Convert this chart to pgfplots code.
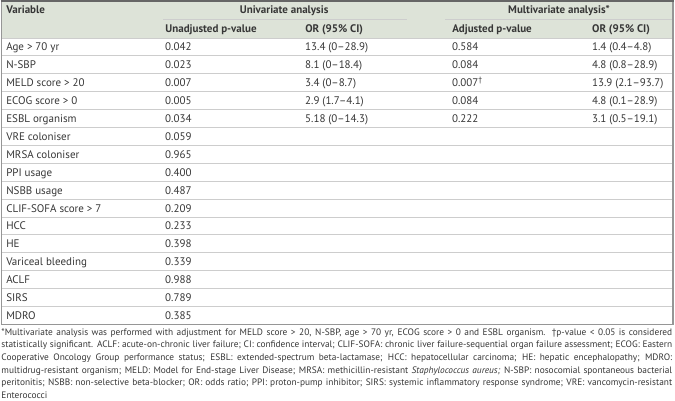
\documentclass[border=0pt]{standalone}
\usepackage{fontspec}
\setmainfont{PT Sans}
\usepackage{pgfplots}
\usepackage{pgfplotstable}
\pgfplotsset{compat=1.18}
\definecolor{hdr}{RGB}{221,227,216}
\definecolor{txt}{RGB}{55,55,55}
\definecolor{rulec}{RGB}{205,205,205}
\definecolor{framec}{RGB}{150,150,150}

\pgfplotstableread[col sep=semicolon,row sep=\\]{
y;var;up\\
51;Age > 70 yr;0.042\\
68.9;N-SBP;0.023\\
86.8;MELD score > 20;0.007\\
104.7;ECOG score > 0;0.005\\
122.6;ESBL organism;0.034\\
140.5;VRE coloniser;0.059\\
158.4;MRSA coloniser;0.965\\
176.3;PPI usage;0.400\\
194.2;NSBB usage;0.487\\
212.1;CLIF-SOFA score > 7;0.209\\
230.0;HCC;0.233\\
247.9;HE;0.398\\
265.8;Variceal bleeding;0.339\\
283.7;ACLF;0.988\\
301.6;SIRS;0.789\\
319.5;MDRO;0.385\\
}\univ

\pgfplotstableread[col sep=semicolon,row sep=\\]{
y;uor;ap;aor\\
51;13.4 (0–28.9);0.584;1.4 (0.4–4.8)\\
68.9;8.1 (0–18.4);0.084;4.8 (0.8–28.9)\\
86.8;3.4 (0–8.7);0.007\textsuperscript{†};13.9 (2.1–93.7)\\
104.7;2.9 (1.7–4.1);0.084;4.8 (0.1–28.9)\\
122.6;5.18 (0–14.3);0.222;3.1 (0.5–19.1)\\
}\multi

\begin{document}
\begin{tikzpicture}
\begin{axis}[
  width=675pt,height=401pt,scale only axis,
  xmin=0,xmax=675,ymin=0,ymax=401,y dir=reverse,
  hide axis,clip=false,
  cell/.style={draw=none,mark=none,only marks,nodes near coords,point meta=explicit symbolic,
    nodes near coords align={anchor=base west},
    every node near coord/.append style={anchor=base west,inner sep=0pt,outer sep=0pt,text=txt,font=\fontsize{11}{13}\selectfont}},
]
% background and header
\fill[white] (axis cs:0,0) rectangle (axis cs:675,401);
\fill[hdr] (axis cs:1,1) rectangle (axis cs:673,38);
% row rules
\pgfplotsinvokeforeach{0,...,15}{
  \draw[rulec,line width=0.8pt] (axis cs:1,{38+17.9*#1}) -- (axis cs:673,{38+17.9*#1});
}
\draw[rulec,line width=0.8pt] (axis cs:163,19.5) -- (axis cs:407,19.5);
\draw[rulec,line width=0.8pt] (axis cs:445,19.5) -- (axis cs:673,19.5);
% frame
\draw[framec,line width=1.2pt] (axis cs:1,1) -- (axis cs:1,324.4) -- (axis cs:673,324.4) -- (axis cs:673,1);
\draw[black!60,line width=1.4pt] (axis cs:0.4,1) -- (axis cs:673.6,1);
% headers
\begin{scope}[every node/.style={inner sep=0pt,text=txt,font=\fontsize{11}{13}\selectfont\bfseries}]
\node[anchor=base west] at (axis cs:6,14) {Variable};
\node[anchor=base] at (axis cs:284,14) {Univariate analysis};
\node[anchor=base] at (axis cs:559,14) {Multivariate analysis*};
\node[anchor=base west] at (axis cs:165,32.5) {Unadjusted p-value};
\node[anchor=base west] at (axis cs:305,32.5) {OR (95\% CI)};
\node[anchor=base west] at (axis cs:452,32.5) {Adjusted p-value};
\node[anchor=base west] at (axis cs:592,32.5) {OR (95\% CI)};
\end{scope}
% table body
\addplot[cell] table[x expr=6,y=y,meta=var] {\univ};
\addplot[cell] table[x expr=165,y=y,meta=up] {\univ};
\addplot[cell] table[x expr=305,y=y,meta=uor] {\multi};
\addplot[cell] table[x expr=452,y=y,meta=ap] {\multi};
\addplot[cell] table[x expr=592,y=y,meta=aor] {\multi};
% footnote
\begin{scope}[every node/.style={anchor=base west,inner sep=0pt,text=txt,font=\fontsize{9.35}{11}\selectfont}]
\node at (axis cs:1,335.5) {\makebox[671pt][s]{*Multivariate analysis was performed with adjustment for MELD score > 20, N-SBP, age > 70 yr, ECOG score > 0 and ESBL organism. †p-value < 0.05 is considered}};
\node at (axis cs:1,348.1) {\makebox[671pt][s]{statistically significant. ACLF: acute-on-chronic liver failure; CI: confidence interval; CLIF-SOFA: chronic liver failure-sequential organ failure assessment; ECOG: Eastern}};
\node at (axis cs:1,360.7) {\makebox[671pt][s]{Cooperative Oncology Group performance status; ESBL: extended-spectrum beta-lactamase; HCC: hepatocellular carcinoma; HE: hepatic encephalopathy; MDRO:}};
\node at (axis cs:1,373.3) {\makebox[671pt][s]{multidrug-resistant organism; MELD: Model for End-stage Liver Disease; MRSA: methicillin-resistant \textit{Staphylococcus aureus;} N-SBP: nosocomial spontaneous bacterial}};
\node at (axis cs:1,385.9) {\makebox[671pt][s]{peritonitis; NSBB: non-selective beta-blocker; OR: odds ratio; PPI: proton-pump inhibitor; SIRS: systemic inflammatory response syndrome; VRE: vancomycin-resistant}};
\node at (axis cs:1,398.5) {Enterococci};
\end{scope}
\end{axis}
\end{tikzpicture}
\end{document}
